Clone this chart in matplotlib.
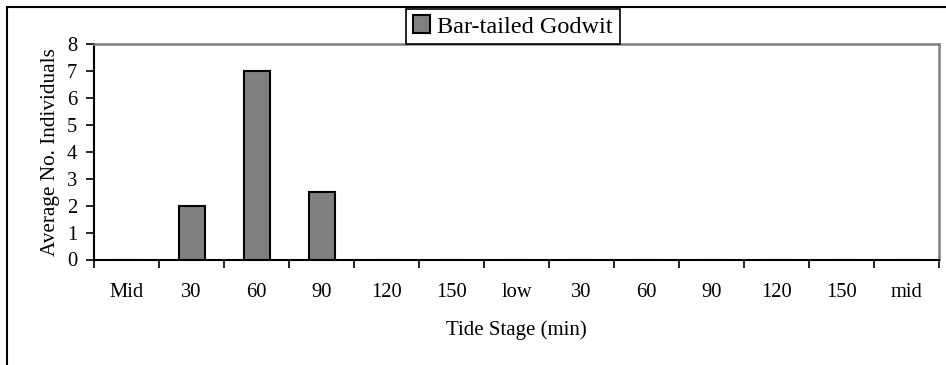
import matplotlib
matplotlib.use("Agg")
from matplotlib import pyplot as plt
from matplotlib.patches import Rectangle
import numpy as np

plt.rcParams['font.family'] = ['Liberation Serif', 'DejaVu Serif']

categories = ['Mid', '30', '60', '90', '120', '150', 'low',
              '30', '60', '90', '120', '150', 'mid']
godwit = [0, 2, 7, 2.5, 0, 0, 0, 0, 0, 0, 0, 0, 0]

W, H = 946, 365
fig = plt.figure(figsize=(W / 100, H / 100), dpi=100)
ax = fig.add_axes([94 / W, 1 - 259.5 / H, (939 - 94) / W, (259.5 - 44) / H])

x = np.arange(len(categories))
ax.bar(x, godwit, width=0.4, color='#808080', edgecolor='black',
       linewidth=1.5, label='Bar-tailed Godwit')

ax.set_xlim(-0.5, len(categories) - 0.5)
ax.set_ylim(0, 8)
ax.set_yticks(range(0, 9))

ax.set_xticks(x)
ax.set_xticklabels(categories)
ax.set_xticks(np.arange(-0.5, len(categories), 1.0), minor=True)
ax.tick_params(axis='x', which='major', length=0, pad=17, labelsize=14.8)
ax.tick_params(axis='x', which='minor', length=6, width=1.2, direction='out')
ax.tick_params(axis='y', length=6, width=1.2, direction='out', pad=6, labelsize=14.8)

for side in ['top', 'right']:
    ax.spines[side].set_color('#808080')
    ax.spines[side].set_linewidth(1.8)
for side in ['left', 'bottom']:
    ax.spines[side].set_color('black')
    ax.spines[side].set_linewidth(1.5)

ax.set_xlabel('Tide Stage (min)', fontsize=15, labelpad=13)
ax.set_ylabel('Average No. Individuals', fontsize=15.3, labelpad=5)

# outer frame round the whole chart
fig.patches.append(Rectangle((7 / W, -0.1), 1.2, 1.1 - 7 / H,
                             transform=fig.transFigure, fill=False,
                             edgecolor='black', linewidth=1.5))

leg = fig.legend(loc='center', bbox_to_anchor=(513 / W, 1 - 26.5 / H),
                 fontsize=17.5, frameon=True, fancybox=False, shadow=False,
                 handlelength=0.7, handleheight=0.7, handletextpad=0.3,
                 borderpad=0.28, borderaxespad=0)
leg.get_frame().set_edgecolor('black')
leg.get_frame().set_linewidth(1.2)
leg.get_frame().set_alpha(1)

fig.savefig('out.png', dpi=100)
